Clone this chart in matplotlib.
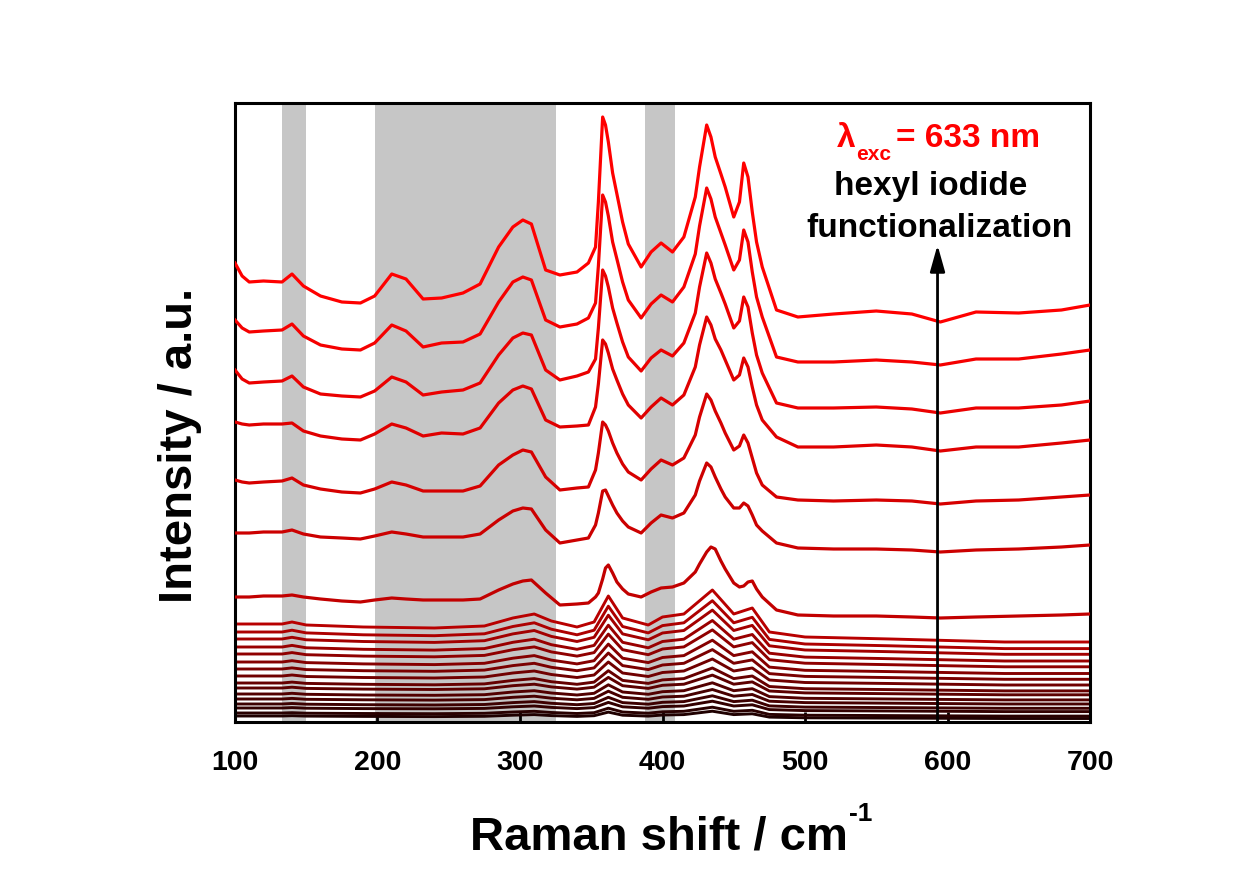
import matplotlib
matplotlib.use('Agg')
import matplotlib.pyplot as plt
import numpy as np

# ---------------- data ----------------
X_TOP = [100, 105, 110, 120, 133, 140, 148, 160, 175, 188, 198, 210, 220, 232, 245,
         260, 272, 285, 295, 302, 308, 318, 328, 340, 348,
         353, 355, 358, 360, 362, 365, 368, 372, 376, 385,
         392, 399, 407, 415,
         423, 426, 431, 434, 437, 441, 444, 450, 454, 457, 460, 463, 466, 470,
         480, 495, 520, 550, 575, 595, 620, 650, 680, 700]

SPEC_1 = [459, 446, 440, 441, 440, 448, 436, 426, 420, 419, 426, 448, 443, 423, 424,
          429, 438, 475, 495, 502, 498, 452, 447, 450, 459,
          475, 520, 605, 597, 580, 549, 528, 500, 478, 455,
          470, 479, 470, 485,
          525, 555, 597, 585, 565, 548, 535, 505, 520, 559, 545, 510, 480, 455,
          412, 405, 408, 411, 408, 400, 410, 409, 412, 417]
SPEC_2 = [402, 394, 390, 391, 392, 398, 386, 377, 373, 372, 379, 397, 391, 375, 379,
          380, 388, 420, 440, 445, 442, 402, 395, 398, 404,
          419, 456, 527, 520, 506, 480, 463, 440, 422, 404,
          418, 427, 420, 435,
          468, 496, 534, 523, 505, 489, 477, 452, 462, 492, 480, 450, 425, 405,
          365, 360, 360, 362, 360, 357, 363, 363, 368, 372]
SPEC_3 = [352, 343, 339, 340, 341, 346, 335, 328, 326, 325, 331, 345, 340, 327, 330,
          332, 339, 367, 384, 389, 387, 352, 342, 346, 350,
          363, 394, 452, 446, 435, 414, 399, 380, 365, 351,
          364, 372, 366, 379,
          409, 435, 469, 459, 443, 429, 418, 394, 401, 425, 415, 389, 367, 349,
          319, 314, 314, 315, 313, 309, 314, 314, 317, 321]
SPEC_4 = [300, 298, 297, 298, 298, 299, 291, 286, 283, 282, 288, 298, 294, 286, 289,
          288, 294, 319, 332, 336, 333, 302, 295, 296, 297,
          315, 338, 382, 378, 369, 353, 342, 328, 317, 304,
          315, 324, 317, 327,
          355, 377, 405, 397, 383, 372, 362, 342, 347, 364, 355, 335, 317, 302,
          285, 275, 275, 277, 275, 271, 275, 275, 279, 282]
SPEC_5 = [242, 240, 239, 240, 241, 244, 237, 233, 230, 229, 233, 240, 237, 231, 231,
          231, 236, 257, 267, 272, 270, 245, 232, 234, 235,
          252, 269, 300, 297, 291, 279, 269, 258, 250, 242,
          253, 262, 257, 264,
          287, 305, 328, 322, 311, 299, 289, 272, 276, 287, 279, 264, 249, 237,
          225, 222, 221, 222, 221, 218, 221, 222, 225, 227]
SPEC_6 = [189, 189, 189, 190, 190, 192, 188, 185, 184, 183, 186, 190, 188, 185, 185,
          185, 188, 202, 211, 214, 213, 192, 179, 182, 184,
          197, 209, 231, 232, 226, 217, 209, 201, 195, 189,
          199, 207, 204, 209,
          227, 241, 259, 255, 245, 233, 225, 214, 214, 219, 216, 207, 197, 191,
          179, 174, 173, 173, 172, 170, 172, 173, 175, 177]
SPEC_7 = [125, 125, 125, 126, 126, 127, 125, 123, 121, 120, 122, 124, 123, 122, 122,
          122, 123, 132, 138, 141, 142, 129, 117, 118, 119,
          125, 129, 143, 154, 157, 149, 140, 133, 128, 125,
          130, 134, 135, 139,
          150, 158, 170, 175, 173, 161, 153, 139, 135, 136, 140, 141, 133, 125,
          112, 107, 106, 106, 105, 104, 105, 106, 107, 108]

X_LOW = [100, 133, 140, 150, 190, 240, 275, 295, 310, 322, 340, 352, 362, 372, 390,
         400, 415, 435, 450, 463, 475, 500, 560, 640, 700]

LOW_01 = [98, 98, 100, 97, 95, 94, 96, 104, 108, 101, 95, 100, 126, 104, 97, 105, 108, 132, 108, 114, 90, 85, 83, 80, 80]
LOW_02 = [90, 90, 91.8, 89.1, 87.2, 86.3, 88.2, 95.5, 99.2, 92.8, 87.2, 91.8, 115.8, 95.5, 89.1, 96.4, 99.2, 121.3, 99.2, 104.7, 82.6, 78, 76.2, 73.4, 73.4]
LOW_03 = [83, 83, 84.7, 82.2, 80.5, 79.6, 81.3, 88.1, 91.5, 85.6, 80.5, 84.7, 106.8, 88.1, 82.2, 89, 91.5, 111.9, 91.5, 96.6, 76.2, 72, 70.3, 67.7, 67.7]
LOW_04 = [75, 75, 76.6, 74.2, 72.7, 71.9, 73.4, 79.7, 82.8, 77.3, 72.7, 76.6, 96.8, 79.7, 74.2, 80.5, 82.8, 101.5, 82.8, 87.5, 68.8, 64.9, 63.3, 61, 61]
LOW_05 = [68, 68, 69.4, 67.3, 65.9, 65.2, 66.6, 72.3, 75.1, 70.1, 65.9, 69.4, 87.9, 72.3, 67.3, 73, 75.1, 92.1, 75.1, 79.4, 62.3, 58.8, 57.3, 55.2, 55.2]
LOW_06 = [60, 60, 61.3, 59.4, 58.1, 57.4, 58.7, 63.8, 66.4, 61.9, 58.1, 61.3, 77.9, 63.8, 59.4, 64.5, 66.4, 81.8, 66.4, 70.2, 54.9, 51.7, 50.4, 48.5, 48.5]
LOW_07 = [53, 53, 54.1, 52.4, 51.3, 50.7, 51.9, 56.4, 58.7, 54.7, 51.3, 54.1, 69, 56.4, 52.4, 57, 58.7, 72.4, 58.7, 62.1, 48.4, 45.6, 44.4, 42.7, 42.7]
LOW_08 = [46, 46, 47, 45.5, 44.5, 44, 45, 49, 51, 47.5, 44.5, 47, 60, 49, 45.5, 49.5, 51, 63, 51, 54, 42, 39.5, 38.5, 37, 37]
LOW_09 = [39, 39, 39.9, 38.6, 37.7, 37.2, 38.1, 41.6, 43.4, 40.3, 37.7, 39.9, 51.3, 41.6, 38.6, 42.1, 43.4, 54, 43.4, 46, 35.5, 33.3, 32.4, 31.1, 31.1]
LOW_10 = [34, 34, 34.8, 33.6, 32.9, 32.5, 33.2, 36.3, 37.8, 35.1, 32.9, 34.8, 44.6, 36.3, 33.6, 36.7, 37.8, 46.9, 37.8, 40.1, 31, 29.1, 28.3, 27.2, 27.2]
LOW_11 = [28, 28, 28.7, 27.7, 27, 26.7, 27.3, 30, 31.3, 29, 27, 28.7, 37.2, 30, 27.7, 30.3, 31.3, 39.2, 31.3, 33.3, 25.4, 23.7, 23, 22.1, 22.1]
LOW_12 = [23, 23, 23.6, 22.7, 22.2, 21.9, 22.4, 24.7, 25.8, 23.8, 22.2, 23.6, 30.8, 24.7, 22.7, 25, 25.8, 32.5, 25.8, 27.5, 20.8, 19.4, 18.8, 18, 18]
LOW_13 = [18, 18, 18.5, 17.8, 17.3, 17, 17.5, 19.4, 20.4, 18.7, 17.3, 18.5, 24.7, 19.4, 17.8, 19.7, 20.4, 26.2, 20.4, 21.8, 16.1, 14.9, 14.4, 13.7, 13.7]
LOW_14 = [14, 14, 14.4, 13.8, 13.4, 13.2, 13.6, 15.2, 16, 14.6, 13.4, 14.4, 19.6, 15.2, 13.8, 15.4, 16, 20.8, 16, 17.2, 12.4, 11.4, 11, 10.4, 10.4]
LOW_15 = [9, 9, 9.3, 8.8, 8.5, 8.3, 8.7, 10, 10.7, 9.5, 8.5, 9.3, 13.8, 10, 8.8, 10.2, 10.7, 14.8, 10.7, 11.7, 7.6, 6.8, 6.4, 5.9, 5.9]
LOW_16 = [6, 6, 6.3, 5.9, 5.6, 5.4, 5.7, 6.8, 7.4, 6.4, 5.6, 6.3, 9.9, 6.8, 5.9, 7, 7.4, 10.8, 7.4, 8.2, 4.9, 4.2, 3.9, 3.5, 3.5]

SHADED = [(133, 150), (198, 325), (388, 409)]
XTICKS = [100, 200, 300, 400, 500, 600, 700]
XLABEL = "Raman shift / cm"
YLABEL = "Intensity / a.u."
ANNOT_1 = "hexyl iodide"
ANNOT_2 = "functionalization"

# ---------------- figure ----------------
W, H = 1251, 871
SANS = ['Liberation Sans', 'DejaVu Sans']

fig = plt.figure(figsize=(W / 100, H / 100), dpi=100)
ax = fig.add_axes([235 / W, 1 - 722 / H, 855 / W, 619 / H])

for lo, hi in SHADED:
    ax.axvspan(lo, hi, color='#c6c6c6', lw=0, zorder=0)

lows = [LOW_16, LOW_15, LOW_14, LOW_13, LOW_12, LOW_11, LOW_10, LOW_09,
        LOW_08, LOW_07, LOW_06, LOW_05, LOW_04, LOW_03, LOW_02, LOW_01]
tops = [SPEC_7, SPEC_6, SPEC_5, SPEC_4, SPEC_3, SPEC_2, SPEC_1]
n = len(lows) + len(tops)
reds = np.linspace(0.12, 1.0, n)
for k, ys in enumerate(lows):
    ax.plot(X_LOW, ys, color=(reds[k], 0, 0), lw=2.1, zorder=2,
            solid_joinstyle='round')
for j, ys in enumerate(tops):
    ax.plot(X_TOP, ys, color=(reds[len(lows) + j], 0, 0), lw=2.3, zorder=3,
            solid_joinstyle='round')

ax.set_xlim(100, 700)
ax.set_ylim(0, 619)
ax.set_yticks([])
ax.set_xticks(XTICKS)
ax.tick_params(axis='x', direction='in', length=7, width=2, pad=20, labelsize=20.5)
for lab in ax.get_xticklabels():
    lab.set_fontweight('bold')
    lab.set_family(SANS)
for sp in ax.spines.values():
    sp.set_linewidth(2.2)

# arrow
ax.annotate('', xy=(593, 477), xytext=(593, 0),
            arrowprops=dict(arrowstyle='-|>,head_length=1.6,head_width=0.45',
                            color='black', lw=2, shrinkA=0, shrinkB=0),
            zorder=5)

def ftext(x, y, s, **kw):
    return fig.text(x / W, 1 - y / H, s, **kw)

red = '#ff0000'
ftext(837, 147, 'λ', color=red, fontsize=24, fontweight='bold', family=SANS, va='baseline')
ftext(856, 160, 'exc', color=red, fontsize=15, fontweight='bold', family=SANS, va='baseline')
ftext(896, 147, '= 633 nm', color=red, fontsize=24, fontweight='bold', family=SANS, va='baseline')
ftext(931, 195, ANNOT_1, color='black', fontsize=24, fontweight='bold', family=SANS,
      ha='center', va='baseline')
ftext(940, 237, ANNOT_2, color='black', fontsize=24, fontweight='bold', family=SANS,
      ha='center', va='baseline')

ftext(470, 849, XLABEL, color='black', fontsize=34, fontweight='bold', family=SANS,
      ha='left', va='baseline')
ftext(849, 821, '-1', color='black', fontsize=19, fontweight='bold', family=SANS,
      ha='left', va='baseline')
ftext(180, 445, YLABEL, color='black', fontsize=34, fontweight='bold', family=SANS,
      ha='center', va='center', rotation=90)

fig.savefig('out.png', dpi=100)
